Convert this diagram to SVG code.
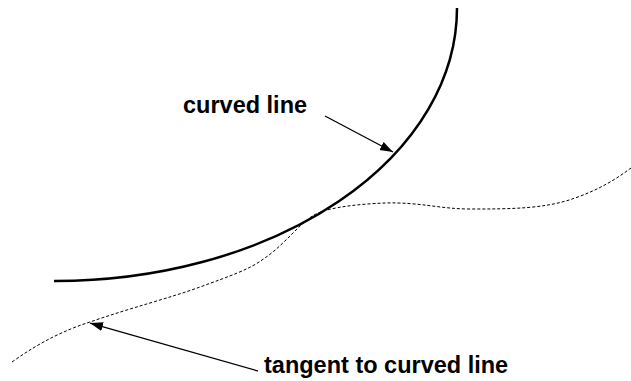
<svg xmlns="http://www.w3.org/2000/svg" width="631" height="381" viewBox="0 0 631 381">
<style>
.lbl{font-family:"Liberation Sans",Arial,sans-serif;font-weight:bold;font-size:23.5px;fill:#000}
.curve{fill:none;stroke:#000;stroke-width:2.5}
.tan{fill:none;stroke:#000;stroke-width:1;stroke-dasharray:3 2}
.ptr{fill:none;stroke:#000;stroke-width:1.3}
</style>
<defs>
<marker id="ah" markerUnits="userSpaceOnUse" markerWidth="14" markerHeight="10" refX="13" refY="4.5" orient="auto">
<path d="M0,0 L13,4.5 L0,9 z" fill="#000"/>
</marker>
</defs>
<g id="curved-line">
<path class="curve" d="M54,281 A402,273 0 0 0 457,8"/>
</g>
<g id="tangent">
<path class="tan" d="M12,362 C40,342 65,330 90,322 C130,308 170,298 200,287 C230,276 248,270 262,260 C285,245 300,222 316,214 C330,207 360,204 385,203 C420,202 440,209 470,209 C510,209 545,209 575,198 C598,190 615,180 631,168"/>
</g>
<g id="label-curved">
<text class="lbl" x="183" y="113">curved line</text>
</g>
<g id="label-tangent">
<text class="lbl" x="264" y="373">tangent to curved line</text>
</g>
<g id="connectors">
<line class="ptr" x1="325" y1="116" x2="393" y2="152" marker-end="url(#ah)"/>
<line class="ptr" x1="258" y1="371" x2="90" y2="323" marker-end="url(#ah)"/>
</g>
</svg>
